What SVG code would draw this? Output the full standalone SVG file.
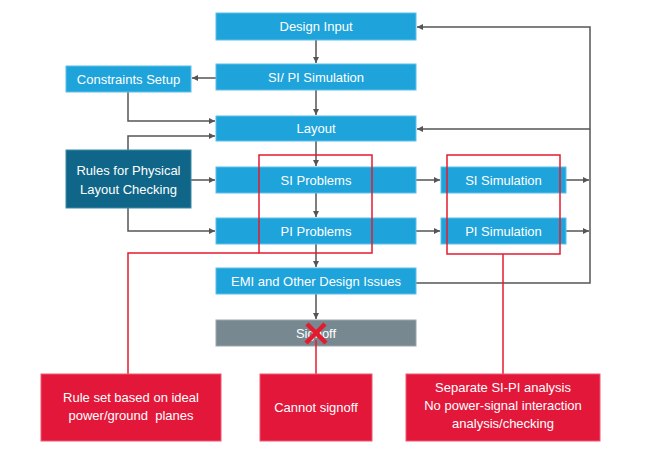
<svg xmlns="http://www.w3.org/2000/svg" width="650" height="454" viewBox="0 0 650 454">
<style>
.b{fill:#1ea3db;stroke:#5cc0ea;stroke-width:1}
.d{fill:#0f6688;stroke:#3f8aa8;stroke-width:1}
.g{fill:#788890;stroke:#9aa6ab;stroke-width:1}
.r{fill:#e3173a;stroke:#ee5a70;stroke-width:1}
.t{font-family:"Liberation Sans",Arial,sans-serif;font-size:13px;fill:#fff;text-anchor:middle}
.c{fill:none;stroke:#555;stroke-width:1.5}
.rl{fill:none;stroke:#e41b2f;stroke-width:1.5}
</style>
<defs>
<marker id="a" viewBox="0 0 10 10" refX="10" refY="5" markerWidth="6" markerHeight="6" orient="auto" markerUnits="userSpaceOnUse">
<path d="M0,0 L10,5 L0,10 z" fill="#555"/>
</marker>
</defs>
<g id="connectors">
<path class="c" d="M316,40 V63" marker-end="url(#a)"/>
<path class="c" d="M316,90 V115" marker-end="url(#a)"/>
<path class="c" d="M216,78 H192" marker-end="url(#a)"/>
<path class="c" d="M128,92 V121 H215" marker-end="url(#a)"/>
<path class="c" d="M128,150 V136 H215" marker-end="url(#a)"/>
<path class="c" d="M191,180 H215" marker-end="url(#a)"/>
<path class="c" d="M128,208 V231 H215" marker-end="url(#a)"/>
<path class="c" d="M316,141 V166" marker-end="url(#a)"/>
<path class="c" d="M316,193 V217" marker-end="url(#a)"/>
<path class="c" d="M316,244 V267" marker-end="url(#a)"/>
<path class="c" d="M316,294 V319" marker-end="url(#a)"/>
<path class="c" d="M416,180 H440" marker-end="url(#a)"/>
<path class="c" d="M416,231 H440" marker-end="url(#a)"/>
<path class="c" d="M566,180 H589" marker-end="url(#a)"/>
<path class="c" d="M566,231 H589" marker-end="url(#a)"/>
<path class="c" d="M416,283 H590 V27 H417" marker-end="url(#a)"/>
<path class="c" d="M590,129 H417" marker-end="url(#a)"/>
</g>
<g id="design-input"><rect class="b" x="216" y="13" width="200" height="27"/><text class="t" x="316" y="31">Design Input</text></g>
<g id="sipi-simulation"><rect class="b" x="216" y="64" width="200" height="26"/><text class="t" x="316" y="82">SI/ PI Simulation</text></g>
<g id="layout"><rect class="b" x="216" y="116" width="200" height="25"/><text class="t" x="316" y="133">Layout</text></g>
<g id="constraints-setup"><rect class="b" x="66" y="66" width="125" height="26"/><text class="t" x="128.5" y="84">Constraints Setup</text></g>
<g id="rules"><rect class="d" x="66" y="150" width="125" height="58"/><text class="t" x="128.5" y="175">Rules for Physical</text><text class="t" x="128.5" y="194">Layout Checking</text></g>
<g id="si-problems"><rect class="b" x="216" y="167" width="200" height="26"/><text class="t" x="316" y="185">SI Problems</text></g>
<g id="pi-problems"><rect class="b" x="216" y="218" width="200" height="26"/><text class="t" x="316" y="236">PI Problems</text></g>
<g id="si-simulation"><rect class="b" x="441" y="167" width="125" height="26"/><text class="t" x="503.5" y="185">SI Simulation</text></g>
<g id="pi-simulation"><rect class="b" x="441" y="218" width="125" height="26"/><text class="t" x="503.5" y="236">PI Simulation</text></g>
<g id="emi"><rect class="b" x="216" y="268" width="200" height="26"/><text class="t" x="316" y="286">EMI and Other Design Issues</text></g>
<g id="signoff"><rect class="g" x="216" y="320" width="200" height="26"/><text class="t" x="316" y="338">Signoff</text>
<path d="M307,324 L326,343 M325,324 L306,343" stroke="#e41b2f" stroke-width="4.5" fill="none"/></g>
<g id="red-annotations">
<rect class="rl" x="259" y="155" width="113" height="98"/>
<rect class="rl" x="447" y="155" width="113" height="99"/>
<path class="rl" d="M259,253 H128 V374"/>
<path class="rl" d="M503,254 V374"/>
<path class="rl" d="M316,340 V374"/>
</g>
<g id="rule-set"><rect class="r" x="41" y="374" width="180" height="67"/><text class="t" x="131" y="402">Rule set based on ideal</text><text class="t" x="131" y="420" xml:space="preserve">power/ground  planes</text></g>
<g id="cannot-signoff"><rect class="r" x="260" y="374" width="112" height="67"/><text class="t" x="316" y="412">Cannot signoff</text></g>
<g id="separate"><rect class="r" x="406" y="374" width="194" height="67"/><text class="t" x="503" y="392">Separate SI-PI analysis</text><text class="t" x="503" y="410">No power-signal interaction</text><text class="t" x="503" y="428">analysis/checking</text></g>
</svg>
